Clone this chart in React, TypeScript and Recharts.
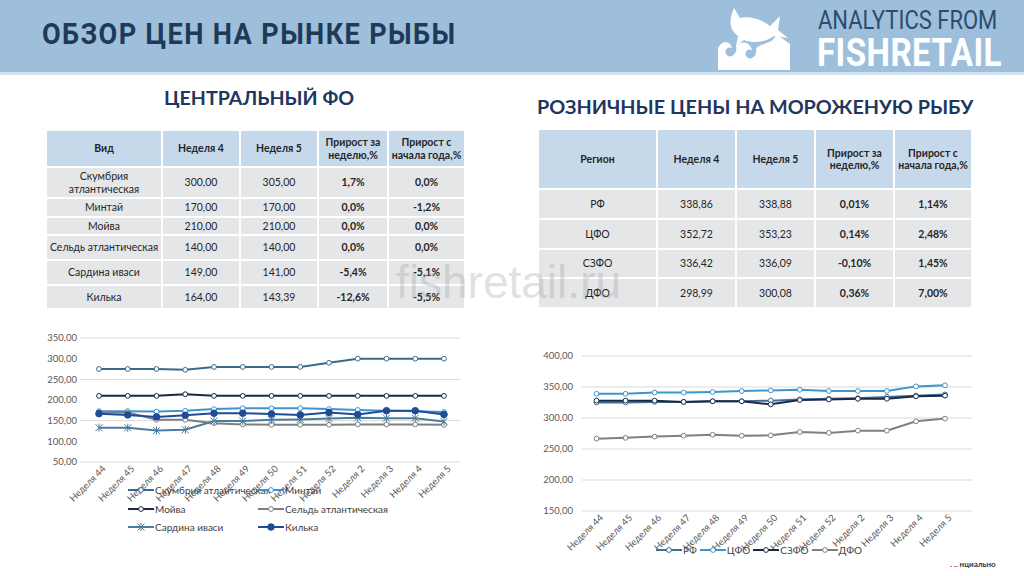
import React from 'react';
import { LineChart, Line, XAxis, YAxis, CartesianGrid, Legend } from 'recharts';

const FONT = "Lato, 'Noto Sans', sans-serif";

// ---- data ----
const weeks = [
  'Неделя 44', 'Неделя 45', 'Неделя 46', 'Неделя 47', 'Неделя 48', 'Неделя 49', 'Неделя 50',
  'Неделя 51', 'Неделя 52', 'Неделя 2', 'Неделя 3', 'Неделя 4', 'Неделя 5',
];

// Центральный ФО
const mackerel = [275, 275, 275, 273, 280, 280, 280, 280, 290, 300, 300, 300, 300];
const pollock = [173, 173, 172, 174, 178, 180, 180, 180, 178, 176, 174, 173, 171];
const capelin = [210, 210, 210, 214, 210, 210, 210, 210, 210, 210, 210, 210, 210];
const herring = [170, 170, 152, 152, 144, 141, 140, 140, 140, 141, 141, 141, 140];
const sardine = [133, 133, 126, 128, 149, 149, 152, 153, 155, 157, 156, 156, 148];
const sprat = [167, 164, 159, 163, 168, 168, 166, 164, 170, 165, 174, 174, 165];

// Розничные цены по регионам
const rf = [325, 325, 326, 326, 327, 327, 328, 330, 331, 332, 334, 336, 338];
const cfo = [339, 339, 341, 341, 342, 343.5, 344.5, 345.5, 343.5, 343.5, 343.5, 351, 352.7];
const szfo = [328, 328, 328, 326, 327, 327, 322, 329, 330, 331, 331, 335, 336];
const dfo = [266.7, 268, 270, 271.5, 273, 271.5, 272, 277.4, 276, 279.6, 279.6, 294.6, 299];

const leftTicks = [50, 100, 150, 200, 250, 300, 350];
const rightTicks = [150, 200, 250, 300, 350, 400];

const leftSeries = [
  { key: 'mackerel', name: 'Скумбрия атлантическая', values: mackerel, color: '#3A6A8C', marker: 'open' },
  { key: 'pollock', name: 'Минтай', values: pollock, color: '#3E94CE', marker: 'open' },
  { key: 'capelin', name: 'Мойва', values: capelin, color: '#1B2945', marker: 'open' },
  { key: 'herring', name: 'Сельдь атлантическая', values: herring, color: '#7F7F7F', marker: 'open' },
  { key: 'sardine', name: 'Сардина иваси', values: sardine, color: '#4C7C9C', marker: 'star' },
  { key: 'sprat', name: 'Килька', values: sprat, color: '#1F4C94', marker: 'filled' },
];

const rightSeries = [
  { key: 'rf', name: 'РФ', values: rf, color: '#3F6F97', marker: 'open' },
  { key: 'cfo', name: 'ЦФО', values: cfo, color: '#3E94CE', marker: 'open' },
  { key: 'szfo', name: 'СЗФО', values: szfo, color: '#1B2945', marker: 'open' },
  { key: 'dfo', name: 'ДФО', values: dfo, color: '#7F7F7F', marker: 'open' },
];

const leftTable = [
  ['Скумбрия атлантическая', '300,00', '305,00', '1,7%', '0,0%'],
  ['Минтай', '170,00', '170,00', '0,0%', '-1,2%'],
  ['Мойва', '210,00', '210,00', '0,0%', '0,0%'],
  ['Сельдь атлантическая', '140,00', '140,00', '0,0%', '0,0%'],
  ['Сардина иваси', '149,00', '141,00', '-5,4%', '-5,1%'],
  ['Килька', '164,00', '143,39', '-12,6%', '-5,5%'],
];

const rightTable = [
  ['РФ', '338,86', '338,88', '0,01%', '1,14%'],
  ['ЦФО', '352,72', '353,23', '0,14%', '2,48%'],
  ['СЗФО', '336,42', '336,09', '-0,10%', '1,45%'],
  ['ДФО', '298,99', '300,08', '0,36%', '7,00%'],
];

type Series = typeof leftSeries[number];

const buildRows = (series: Series[]) =>
  weeks.map((week, i) => {
    const row: Record<string, string | number> = { week };
    series.forEach((s) => { row[s.key] = s.values[i]; });
    return row;
  });

const leftData = buildRows(leftSeries);
const rightData = buildRows(rightSeries);

const fmt = (v: number) => v.toFixed(2).replace('.', ',');

const Marker = ({ kind, cx, cy, color }: { kind: string; cx: number; cy: number; color: string }) => {
  if (kind === 'filled') return <circle cx={cx} cy={cy} r={3.3} fill={color} stroke={color} />;
  if (kind === 'star') {
    const s = 3.5;
    return (
      <g stroke={color} strokeWidth={1}>
        <line x1={cx - s} y1={cy - s} x2={cx + s} y2={cy + s} />
        <line x1={cx - s} y1={cy + s} x2={cx + s} y2={cy - s} />
        <line x1={cx} y1={cy - s - 0.5} x2={cx} y2={cy + s + 0.5} />
      </g>
    );
  }
  return <circle cx={cx} cy={cy} r={2.4} fill="#fff" stroke={color} strokeWidth={1} />;
};

const dotFor = (s: Series) => (p: any) => (
  <g key={`${s.key}-${p.index}`}>
    <Marker kind={s.marker} cx={p.cx} cy={p.cy} color={s.color} />
  </g>
);

const AngledTick = (props: any) => {
  const { x, y, payload } = props;
  return (
    <g transform={`translate(${x + 5},${y + 1})`}>
      <text textAnchor="end" transform="rotate(-45)" fontSize={9.5} fill="#595959" fontFamily={FONT} dy="0.35em">
        {payload.value}
      </text>
    </g>
  );
};

const LegendSample = ({ s }: { s: Series }) => (
  <svg width={26} height={10} style={{ flex: 'none' }}>
    <line x1={0} y1={5} x2={26} y2={5} stroke={s.color} strokeWidth={2} />
    <Marker kind={s.marker} cx={13} cy={5} color={s.color} />
  </svg>
);

const LeftLegend = () => (
  <div style={{ display: 'grid', gridTemplateColumns: '130px 160px', rowGap: 0, fontFamily: FONT, fontSize: 10, color: '#404040' }}>
    {leftSeries.map((s) => (
      <div key={s.key} style={{ display: 'flex', alignItems: 'center', height: 18.5, whiteSpace: 'nowrap' }}>
        <LegendSample s={s} />
        <span style={{ marginLeft: 1 }}>{s.name}</span>
      </div>
    ))}
  </div>
);

const RightLegend = () => (
  <div style={{ display: 'flex', fontFamily: FONT, fontSize: 10, color: '#404040' }}>
    {rightSeries.map((s) => (
      <div key={s.key} style={{ display: 'flex', alignItems: 'center', height: 14, whiteSpace: 'nowrap', marginRight: 3 }}>
        <LegendSample s={s} />
        <span style={{ marginLeft: 1 }}>{s.name}</span>
      </div>
    ))}
  </div>
);

const cell: React.CSSProperties = {
  border: '2px solid #fff',
  textAlign: 'center',
  verticalAlign: 'middle',
  padding: 0,
  lineHeight: 1.15,
};

const PriceTable = ({
  head, rows, widths, headHeight, heights, left, top,
}: {
  head: string[]; rows: string[][]; widths: number[]; headHeight: number; heights: number[]; left: number; top: number;
}) => (
  <table
    style={{
      position: 'absolute', left, top, borderCollapse: 'collapse', tableLayout: 'fixed',
      fontFamily: FONT, fontSize: 10.5, color: '#262626',
    }}
  >
    <colgroup>
      {widths.map((w, i) => <col key={i} style={{ width: w }} />)}
    </colgroup>
    <tbody>
      <tr style={{ height: headHeight }}>
        {head.map((h, i) => (
          <td key={i} style={{ ...cell, background: '#C6D9EB', fontWeight: 700, whiteSpace: 'pre-line' }}>{h}</td>
        ))}
      </tr>
      {rows.map((r, ri) => (
        <tr key={ri} style={{ height: heights[ri] }}>
          {r.map((c, ci) => (
            <td key={ci} style={{ ...cell, background: '#E5E6E8', fontWeight: ci >= 3 ? 700 : 400 }}>{c}</td>
          ))}
        </tr>
      ))}
    </tbody>
  </table>
);

const FishLogo = () => (
  <svg width={80} height={66} style={{ position: 'absolute', left: 714, top: 4 }} viewBox="0 0 80 66">
    {/* jumping fish */}
    <path
      d="M20 4 L26 14 C34 12 46 14 56 22 L66 12 L64 26 L74 34 L60 32 C52 38 40 40 30 36 L22 42 L24 32 C16 26 14 18 20 4 Z"
      fill="#fff"
    />
    {/* waves block */}
    <path
      d="M4 66 L4 44 C8 36 16 36 18 44 C14 42 10 46 12 50 C16 56 24 50 22 42 C28 36 36 38 38 46 C34 44 30 48 32 52 C36 58 44 52 42 44 C50 38 60 40 62 30 L76 40 L76 66 Z"
      fill="#fff"
    />
  </svg>
);

export default function App() {
  return (
    <div style={{ position: 'absolute', left: 0, top: 0, width: 1024, height: 576, background: '#fff', overflow: 'hidden', fontFamily: FONT }}>
      {/* header */}
      <div style={{ position: 'absolute', left: 0, top: 0, width: 1024, height: 72, background: '#9DBFDC', borderBottom: '3px solid #D3E3F0' }} />
      <div
        style={{
          position: 'absolute', left: 42, top: 16, fontFamily: 'Roboto, sans-serif', fontWeight: 700, fontSize: 30,
          color: '#1E3A56', letterSpacing: 1.5, transform: 'scaleX(0.905)', transformOrigin: 'left top', whiteSpace: 'nowrap',
        }}
      >
        ОБЗОР ЦЕН НА РЫНКЕ РЫБЫ
      </div>
      <FishLogo />
      <div
        style={{
          position: 'absolute', left: 818, top: 6, fontFamily: 'Roboto, sans-serif', fontSize: 25, color: '#2E4C6C',
          transform: 'scaleX(0.88)', transformOrigin: 'left top', whiteSpace: 'nowrap',
        }}
      >
        ANALYTICS FROM
      </div>
      <div
        style={{
          position: 'absolute', left: 817, top: 30, fontFamily: 'Roboto, sans-serif', fontWeight: 700, fontSize: 39, color: '#fff',
          transform: 'scaleX(0.85)', transformOrigin: 'left top', whiteSpace: 'nowrap', letterSpacing: 0.5,
        }}
      >
        FISHRETAIL
      </div>

      {/* section titles */}
      <div style={{ position: 'absolute', left: 164, top: 86, fontWeight: 700, fontSize: 19.6, color: '#1F3760', whiteSpace: 'nowrap' }}>
        ЦЕНТРАЛЬНЫЙ ФО
      </div>
      <div style={{ position: 'absolute', left: 537, top: 94, fontWeight: 700, fontSize: 19.8, color: '#1F3760', whiteSpace: 'nowrap' }}>
        РОЗНИЧНЫЕ ЦЕНЫ НА МОРОЖЕНУЮ РЫБУ
      </div>

      <PriceTable
        head={['Вид', 'Неделя 4', 'Неделя 5', 'Прирост за\nнеделю,%', 'Прирост с\nначала года,%']}
        rows={leftTable}
        widths={[116, 78, 78, 70, 77]}
        headHeight={37}
        heights={[31, 19, 18, 25, 25, 24]}
        left={45}
        top={129}
      />
      <PriceTable
        head={['Регион', 'Неделя 4', 'Неделя 5', 'Прирост за\nнеделю,%', 'Прирост с\nначала года,%']}
        rows={rightTable}
        widths={[119, 79, 79, 79, 78]}
        headHeight={60}
        heights={[30, 30, 29, 30]}
        left={537}
        top={128}
      />

      {/* left chart */}
      <div style={{ position: 'absolute', left: 20, top: 328 }}>
        <LineChart width={450} height={240} data={leftData} margin={{ top: 10, right: 10, bottom: 46, left: 0 }}>
          <CartesianGrid vertical={false} stroke="#D9D9D9" />
          <XAxis
            dataKey="week" interval={0} height={60} tick={<AngledTick />} tickLine={false} axisLine={false}
            tickSize={0} tickMargin={4} padding={{ left: 19, right: 16 }}
          />
          <YAxis
            width={60} domain={[50, 350]} ticks={leftTicks} tickFormatter={fmt} tickLine={false} axisLine={false}
            tickSize={0} tickMargin={3} tick={{ fontSize: 9.5, fill: '#595959', fontFamily: FONT }}
          />
          {leftSeries.map((s) => (
            <Line
              key={s.key} dataKey={s.key} name={s.name} type="linear" stroke={s.color} strokeWidth={2}
              dot={dotFor(s)} activeDot={false} isAnimationActive={false}
            />
          ))}
          <Legend
            layout="horizontal" verticalAlign="middle" align="center" content={<LeftLegend />}
            wrapperStyle={{ left: 108, top: 153, width: 300 }}
          />
        </LineChart>
      </div>

      {/* right chart */}
      <div style={{ position: 'absolute', left: 520, top: 345 }}>
        <LineChart width={460} height={225} data={rightData} margin={{ top: 11, right: 8, bottom: 9, left: 0 }}>
          <CartesianGrid vertical={false} stroke="#D9D9D9" />
          <XAxis
            dataKey="week" interval={0} height={50} tick={<AngledTick />} tickLine={false} axisLine={false}
            tickSize={0} tickMargin={4} padding={{ left: 14.5, right: 27 }}
          />
          <YAxis
            width={62} domain={[150, 400]} ticks={rightTicks} tickFormatter={fmt} tickLine={false} axisLine={false}
            tickSize={0} tickMargin={9} tick={{ fontSize: 9.5, fill: '#595959', fontFamily: FONT }}
          />
          {rightSeries.map((s) => (
            <Line
              key={s.key} dataKey={s.key} name={s.name} type="linear" stroke={s.color} strokeWidth={2}
              dot={dotFor(s)} activeDot={false} isAnimationActive={false}
            />
          ))}
          <Legend
            layout="horizontal" verticalAlign="middle" align="center" content={<RightLegend />}
            wrapperStyle={{ left: 136, top: 198, width: 260 }}
          />
        </LineChart>
      </div>

      {/* watermark */}
      <div
        style={{
          position: 'absolute', left: 396, top: 255, fontFamily: "'Liberation Sans', Arial, sans-serif", fontSize: 46,
          color: 'rgba(150,150,150,0.3)', whiteSpace: 'nowrap', pointerEvents: 'none',
        }}
      >
        fishretail.ru
      </div>

      <div style={{ position: 'absolute', left: 950, top: 559, fontSize: 8, fontWeight: 700, color: '#333', whiteSpace: 'nowrap' }}>
        . .. нциально
      </div>
    </div>
  );
}
